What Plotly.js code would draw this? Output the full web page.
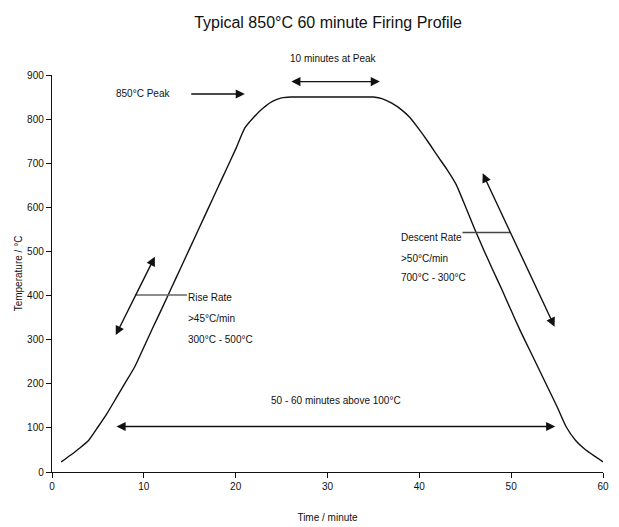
<!DOCTYPE html>
<html>
<head>
<meta charset="utf-8">
<script src="https://cdn.plot.ly/plotly-3.0.1.min.js"></script>
<style>html,body{margin:0;padding:0;background:#fff;}#chart{width:619px;height:527px;}</style>
</head>
<body>
<div id="chart"></div>
<script>
// Time (minutes) and temperature (°C) of the firing profile
const timeMin = [1,2,3,4,5,6,7,8,9,10,11,12,13,14,15,16,17,18,19,20,21,22,23,24,25,26,27,28,29,30,31,32,33,34,35,36,37,38,39,40,41,42,43,44,45,46,47,48,49,50,51,52,53,54,55,56,57,58,59,60];
const tempC = [23,38,54,72,102,133,168,203,238,283,328,372,417,462,507,552,597,642,687,732,780,805,825,840,848,850,850,850,850,850,850,850,850,850,850,846,836,822,803,776,747,716,686,652,603,552,504,458,413,366,320,277,234,191,148,102,72,52,37,23];
const xTicks = [0,10,20,30,40,50,60];
const yTicks = [0,100,200,300,400,500,600,700,800,900];
const titleText = "Typical 850°C 60 minute Firing Profile";
const xTitle = "Time / minute";
const yTitle = "Temperature / °C";
const riseLines = ["Rise Rate", "&gt;45°C/min", "300°C - 500°C"];
const descentLines = ["Descent Rate", "&gt;50°C/min", "700°C - 300°C"];
const peakLabel = "850°C Peak";
const peakTimeLabel = "10 minutes at Peak";
const above100Label = "50 - 60 minutes above 100°C";

const FONT = "'Liberation Sans Narrow', 'Arial Narrow', 'Liberation Sans', Arial, sans-serif";
const txt = (x, y, t, opts) => Object.assign({x, y, xref:'x', yref:'y', text:t, showarrow:false, font:{family:FONT, size:10, color:'#111'}}, opts||{});
const arrow = (x, y, ax, ay, both) => ({x, y, ax, ay, xref:'x', yref:'y', axref:'x', ayref:'y', text:'', showarrow:true, arrowhead:2, startarrowhead:2, arrowside: both ? 'end+start' : 'end', arrowsize:1.3, startarrowsize:1.3, arrowwidth:1.4, arrowcolor:'#111'});

const annotations = [];
riseLines.forEach((t,i)=>annotations.push(txt(14.6, [395,349,300][i], t, {xanchor:'left'})));
descentLines.forEach((t,i)=>annotations.push(txt(37.8, [531,485,440][i], t, {xanchor:'left'})));
annotations.push(txt(9.9, 857, peakLabel));
annotations.push(txt(30.7, 1.06, peakTimeLabel, {yref:'paper'}));
annotations.push(txt(30.9, 162, above100Label));
annotations.push(arrow(21.0, 857, 15.0, 857, false));
annotations.push(arrow(35.7, 885, 25.9, 885, true));
annotations.push(arrow(11.2, 488, 6.86, 307, true));
annotations.push(arrow(46.9, 677, 54.8, 326, true));
annotations.push(arrow(54.8, 103, 6.86, 103, true));

const shapes = [
  {type:'line', xref:'x', yref:'y', x0:9.04, x1:14.7, y0:401, y1:401, line:{color:'#666', width:1.5}},
  {type:'line', xref:'x', yref:'y', x0:44.7, x1:49.9, y0:543, y1:543, line:{color:'#444', width:1.5}}
];

const trace = {x:timeMin, y:tempC, type:'scatter', mode:'lines', line:{color:'#111', width:1.4, shape:'spline', smoothing:0.5}, hoverinfo:'skip'};

const layout = {
  width:619, height:527,
  margin:{l:52, r:16, t:75, b:55},
  paper_bgcolor:'#fff', plot_bgcolor:'#fff',
  showlegend:false,
  title:{text:titleText, x:0.53, xanchor:'center', y:0.958, yanchor:'middle', font:{family:FONT, size:16, color:'#111'}},
  xaxis:{range:[0,60], tickvals:xTicks, ticktext:xTicks.map(String), showgrid:false, zeroline:false, showline:true, linecolor:'#111', linewidth:1.2, ticks:'outside', ticklen:5, tickcolor:'#111', tickfont:{family:FONT, size:10, color:'#111'},
         title:{text:xTitle, standoff:22, font:{family:FONT, size:10, color:'#111'}}},
  yaxis:{range:[0,900], tickvals:yTicks, ticktext:yTicks.map(String), showgrid:false, zeroline:false, showline:true, linecolor:'#111', linewidth:1.2, ticks:'outside', ticklen:5, tickcolor:'#111', tickfont:{family:FONT, size:10, color:'#111'},
         title:{text:yTitle, standoff:2, font:{family:FONT, size:10, color:'#111'}}},
  annotations, shapes
};
Plotly.newPlot('chart', [trace], layout, {displayModeBar:false, staticPlot:true});
</script>
</body>
</html>
